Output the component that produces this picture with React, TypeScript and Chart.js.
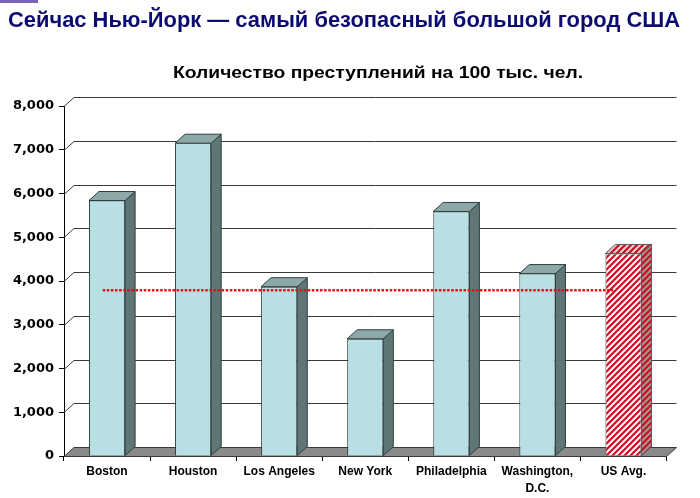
import React, { useEffect, useRef } from 'react';
import { Chart, registerables } from 'chart.js';

Chart.register(...registerables);

const TITLE = 'Сейчас Нью-Йорк — самый безопасный большой город США';
const SUBTITLE = 'Количество преступлений на 100 тыс. чел.';

const categories: (string | string[])[] = [
  'Boston',
  'Houston',
  'Los Angeles',
  'New York',
  'Philadelphia',
  ['Washington,', 'D.C.'],
  'US Avg.',
];
const crimeRates = [5840, 7150, 3870, 2680, 5590, 4170, 4630];
const referenceLevel = 3790;
const referenceSpan = [-0.05, 5.88];
const yMin = 0;
const yMax = 8000;
const yStep = 1000;
const highlightIndex = 6;

const DX = 10;
const DY = 9;

function hatch(bg: string, fg: string): CanvasPattern {
  const c = document.createElement('canvas');
  c.width = 6;
  c.height = 6;
  const g = c.getContext('2d')!;
  g.fillStyle = bg;
  g.fillRect(0, 0, 6, 6);
  g.strokeStyle = fg;
  g.lineWidth = 2.2;
  g.beginPath();
  g.moveTo(-1, 7);
  g.lineTo(7, -1);
  g.moveTo(-1, 1);
  g.lineTo(1, -1);
  g.moveTo(5, 7);
  g.lineTo(7, 5);
  g.stroke();
  return g.createPattern(c, 'repeat')!;
}

export default function App() {
  const ref = useRef<HTMLCanvasElement | null>(null);

  useEffect(() => {
    const canvas = ref.current;
    if (!canvas) return;

    const red = '#c8101e';
    const frontHatch = hatch('#ffffff', red);
    const sideHatch = hatch('#a89494', red);
    const topHatch = hatch('#e6cfcf', red);

    const frontColors = crimeRates.map((_, i) => (i === highlightIndex ? frontHatch : '#b8dfe4'));
    const sideColors = crimeRates.map((_, i) => (i === highlightIndex ? sideHatch : '#5f7677'));
    const topColors = crimeRates.map((_, i) => (i === highlightIndex ? topHatch : '#8ea8aa'));
    const edgeColors = crimeRates.map((_, i) => (i === highlightIndex ? '#5a5a5a' : '#2f3e3e'));

    const tickValues: number[] = [];
    for (let v = yMin; v <= yMax; v += yStep) tickValues.push(v);

    const threeD = {
      id: 'threeD',
      beforeDatasetsDraw(chart: any) {
        const { ctx, chartArea: a, scales } = chart;
        const y = scales.y;
        ctx.save();
        ctx.strokeStyle = '#3a3a3a';
        ctx.lineWidth = 1;
        for (const v of tickValues) {
          if (v === yMin) continue;
          const py = Math.round(y.getPixelForValue(v)) + 0.5;
          ctx.beginPath();
          ctx.moveTo(a.left, py);
          ctx.lineTo(a.left + DX, py - DY);
          ctx.lineTo(a.right + DX, py - DY);
          ctx.stroke();
        }
        const y0 = Math.round(y.getPixelForValue(yMin)) + 0.5;
        ctx.beginPath();
        ctx.moveTo(a.left, y0);
        ctx.lineTo(a.left + DX, y0 - DY);
        ctx.lineTo(a.right + DX, y0 - DY);
        ctx.lineTo(a.right, y0);
        ctx.closePath();
        ctx.fillStyle = '#8a8a8a';
        ctx.fill();
        ctx.strokeStyle = '#3a3a3a';
        ctx.stroke();
        ctx.restore();
      },
      afterDatasetDraw(chart: any, args: any) {
        const meta = args.meta;
        if (meta.type !== 'bar') return;
        const ctx = chart.ctx;
        ctx.save();
        ctx.lineWidth = 1;
        meta.data.forEach((bar: any, i: number) => {
          const { x, y, width, base } = bar.getProps(['x', 'y', 'width', 'base'], true);
          const x1 = x - width / 2;
          const x2 = x + width / 2;
          ctx.strokeStyle = edgeColors[i];
          ctx.beginPath();
          ctx.moveTo(x2, y);
          ctx.lineTo(x2 + DX, y - DY);
          ctx.lineTo(x2 + DX, base - DY);
          ctx.lineTo(x2, base);
          ctx.closePath();
          ctx.fillStyle = sideColors[i];
          ctx.fill();
          ctx.stroke();
          ctx.beginPath();
          ctx.moveTo(x1, y);
          ctx.lineTo(x1 + DX, y - DY);
          ctx.lineTo(x2 + DX, y - DY);
          ctx.lineTo(x2, y);
          ctx.closePath();
          ctx.fillStyle = topColors[i];
          ctx.fill();
          ctx.stroke();
        });
        ctx.restore();
      },
      afterDraw(chart: any) {
        const ctx = chart.ctx;
        ctx.save();
        ctx.fillStyle = '#7b61b5';
        ctx.fillRect(0, 0, 38, 3);

        ctx.textBaseline = 'alphabetic';
        ctx.textAlign = 'left';
        ctx.font = 'bold 22px "Liberation Sans", Arial, sans-serif';
        ctx.fillStyle = '#0c0c70';
        const tw = ctx.measureText(TITLE).width;
        ctx.save();
        ctx.translate(8, 26.5);
        ctx.scale(672 / tw, 1);
        ctx.fillText(TITLE, 0, 0);
        ctx.restore();

        ctx.font = 'bold 17px "Liberation Sans", Arial, sans-serif';
        ctx.fillStyle = '#000000';
        const sw = ctx.measureText(SUBTITLE).width;
        ctx.save();
        ctx.translate(173, 77.5);
        ctx.scale(410 / sw, 1);
        ctx.fillText(SUBTITLE, 0, 0);
        ctx.restore();
        ctx.restore();
      },
    };

    const chart = new Chart(canvas, {
      type: 'bar',
      data: {
        labels: categories as any,
        datasets: [
          {
            type: 'bar',
            data: crimeRates,
            backgroundColor: frontColors as any,
            borderColor: edgeColors,
            borderWidth: 1,
            barPercentage: 0.42,
            categoryPercentage: 1,
            grouped: false,
            order: 2,
            xAxisID: 'x',
          } as any,
          {
            type: 'line',
            data: [
              { x: referenceSpan[0], y: referenceLevel },
              { x: referenceSpan[1], y: referenceLevel },
            ],
            xAxisID: 'x2',
            borderColor: '#e0101a',
            borderWidth: 2.5,
            borderDash: [2.5, 1.6],
            borderCapStyle: 'butt',
            pointRadius: 0,
            fill: false,
            order: 1,
          } as any,
        ],
      },
      options: {
        responsive: false,
        animation: false,
        devicePixelRatio: 1,
        layout: { padding: { top: 106, right: 33.5, left: 0, bottom: 0 } },
        plugins: {
          legend: { display: false },
          tooltip: { enabled: false },
          title: { display: false },
        },
        scales: {
          x: {
            type: 'category',
            offset: true,
            afterFit: (s: any) => {
              s.height = 42;
            },
            grid: {
              offset: true,
              drawOnChartArea: false,
              drawTicks: true,
              tickLength: 5,
              color: '#000000',
            },
            border: { display: true, color: '#3a3a3a' },
            ticks: {
              color: '#000000',
              padding: 2,
              maxRotation: 0,
              autoSkip: false,
              font: { family: '"Liberation Sans", Arial, sans-serif', size: 12, weight: 'bold', lineHeight: 1.4 },
            },
          },
          x2: {
            type: 'linear',
            display: false,
            min: -0.5,
            max: 6.5,
            offset: false,
          },
          y: {
            min: yMin,
            max: yMax,
            afterFit: (s: any) => {
              s.width = 64;
            },
            grid: {
              drawOnChartArea: false,
              drawTicks: true,
              tickLength: 5,
              color: '#000000',
            },
            border: { display: true, color: '#000000' },
            ticks: {
              stepSize: yStep,
              color: '#000000',
              padding: 5,
              font: { family: '"DejaVu Sans", Verdana, sans-serif', size: 13, weight: 'bold' },
              callback: (v: any) => Number(v).toLocaleString('en-US'),
            },
          },
        },
      } as any,
      plugins: [threeD],
    });

    return () => chart.destroy();
  }, []);

  return (
    <div style={{ position: 'fixed', left: 0, top: 0, width: 700, height: 498, background: '#ffffff' }}>
      <canvas ref={ref} width={700} height={498} style={{ display: 'block', width: 700, height: 498 }} />
    </div>
  );
}
